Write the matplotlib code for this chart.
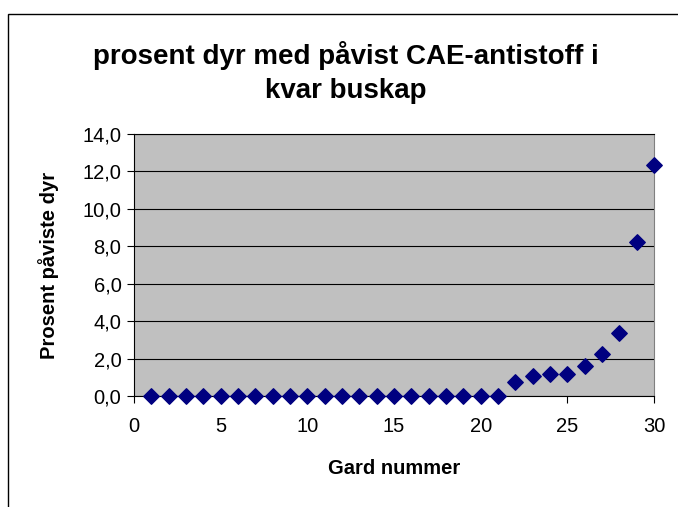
import matplotlib
matplotlib.use("Agg")
import matplotlib.pyplot as plt
from matplotlib.patches import Rectangle

gard = list(range(1, 31))
prosent = [0.0]*21 + [0.74, 1.06, 1.17, 1.17, 1.59, 2.27, 3.36, 8.23, 12.32]
yticks = [0, 2, 4, 6, 8, 10, 12, 14]
xticks = [0, 5, 10, 15, 20, 25, 30]

plt.rcParams['font.family'] = ['Liberation Sans', 'DejaVu Sans']
fig = plt.figure(figsize=(6.78, 5.07), dpi=100)
fig.patches.append(Rectangle((8/678, -0.01), 1.0, 1 - 14/507 + 0.01, transform=fig.transFigure,
                             fill=False, edgecolor='black', linewidth=1.0))
ax = fig.add_axes([134/678, 1 - 396/507, 520/678, 262/507])
ax.set_facecolor('#C0C0C0')
ax.scatter(gard, prosent, marker='D', s=62, color='#000080', zorder=3, clip_on=False)
ax.set_xlim(0, 30)
ax.set_ylim(0, 14)
ax.set_xticks(xticks)
ax.set_yticks(yticks)
ax.set_yticklabels([f"{v:.1f}".replace('.', ',') for v in yticks])
ax.grid(axis='y', color='black', linewidth=0.8)
ax.set_axisbelow(True)
for s in ['left', 'bottom', 'top']:
    ax.spines[s].set_color('black')
ax.spines['right'].set_color('#808080')
ax.tick_params(axis='both', labelsize=14.5, length=5, direction='out', pad=4)
ax.tick_params(axis='x', pad=10)
ax.set_xlabel('Gard nummer', fontsize=14.5, fontweight='bold')
ax.set_ylabel('Prosent påviste dyr', fontsize=14.5, fontweight='bold')
ax.xaxis.set_label_coords(0.5, -0.24)
ax.yaxis.set_label_coords(-0.145, 0.5)
fig.text(346/678, 1 - 72/507, 'prosent dyr med påvist CAE-antistoff i\nkvar buskap', ha='center', va='center',
         fontsize=20, fontweight='bold', linespacing=1.4)
fig.savefig('out.png', dpi=100)
